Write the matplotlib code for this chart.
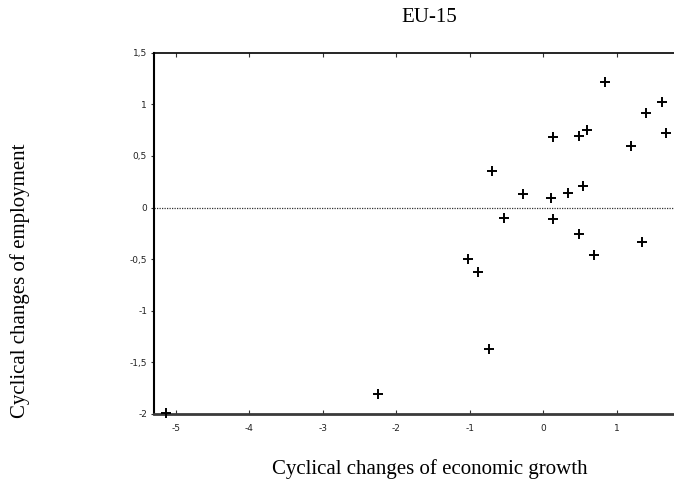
import matplotlib
matplotlib.use("Agg")
import matplotlib.pyplot as plt

growth = [-5.13, -2.25, -1.02, -0.89, -0.74, -0.70, -0.54, -0.27, 0.10, 0.13,
          0.13, 0.33, 0.49, 0.48, 0.54, 0.59, 0.69, 0.84, 1.19, 1.35, 1.40, 1.61, 1.67]
employment = [-1.99, -1.81, -0.50, -0.62, -1.37, 0.35, -0.10, 0.13, 0.09, -0.11,
              0.68, 0.14, 0.69, -0.26, 0.21, 0.75, -0.46, 1.22, 0.60, -0.33, 0.92, 1.02, 0.72]

x_ticks = [-5, -4, -3, -2, -1, 0, 1]
x_tick_labels = ["-5", "-4", "-3", "-2", "-1", "0", "1"]
y_ticks = [-2, -1.5, -1, -0.5, 0, 0.5, 1, 1.5]
y_tick_labels = ["-2", "-1,5", "-1", "-0,5", "0", "0,5", "1", "1,5"]

title = "EU-15"
xlabel = "Cyclical changes of economic growth"
ylabel = "Cyclical changes of employment"

fig = plt.figure(figsize=(6.74, 4.87), dpi=100)
ax = fig.add_axes([0.2285, 0.1499, 0.7715, 0.7419])

ax.axhline(0, color="#333333", lw=0.9, ls=(0, (1, 1)), zorder=1)
ax.plot(growth, employment, ls="none", marker="+", color="black",
        markersize=6.5, markeredgewidth=1.4, zorder=3, clip_on=False)

ax.set_xlim(-5.3, 1.78)
ax.set_ylim(-2, 1.5)
ax.set_xticks(x_ticks)
ax.set_xticklabels(x_tick_labels)
ax.set_yticks(y_ticks)
ax.set_yticklabels(y_tick_labels)

for lbl in ax.get_xticklabels() + ax.get_yticklabels():
    lbl.set_fontfamily("DejaVu Sans")
    lbl.set_fontsize(6.5)
    lbl.set_color("#222222")

ax.tick_params(axis="x", direction="in", length=3, width=0.8, top=True, bottom=True,
               pad=7, color="#333333")
ax.tick_params(axis="y", direction="out", length=2, width=0.8, pad=3, color="#333333")

ax.spines["right"].set_visible(False)
ax.spines["left"].set_linewidth(1.5)
ax.spines["left"].set_color("black")
ax.spines["bottom"].set_linewidth(2.0)
ax.spines["bottom"].set_color("#3a3a3a")
ax.spines["top"].set_linewidth(1.2)
ax.spines["top"].set_color("black")

serif = ["Liberation Serif", "DejaVu Serif"]
fig.text(429 / 674, 1 - 17 / 487, title, ha="center", va="center",
         fontsize=15, family=serif)
fig.text(430 / 674, 1 - 469 / 487, xlabel, ha="center", va="center",
         fontsize=15, family=serif)
fig.text(20 / 674, 1 - 281 / 487, ylabel, ha="center", va="center",
         rotation=90, fontsize=15, family=serif)

fig.savefig("out.png", dpi=100)
